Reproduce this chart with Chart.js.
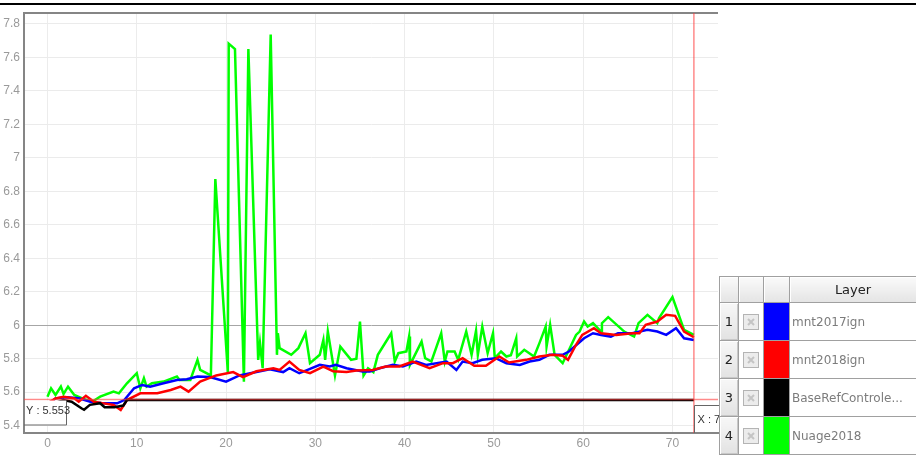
<!DOCTYPE html>
<html>
<head>
<meta charset="utf-8">
<script src="https://cdn.jsdelivr.net/npm/chart.js@4.4.1/dist/chart.umd.min.js"></script>
<style>
  html,body{margin:0;padding:0;background:#fff;width:916px;height:455px;overflow:hidden;position:relative;}
  #topbar{position:absolute;left:0;top:3px;width:916px;height:2px;background:#000;}
  #c{position:absolute;left:0;top:0;}
  #tbl{position:absolute;left:719px;top:276px;width:197px;height:179px;overflow:hidden;}
  #tbl table{border-collapse:collapse;table-layout:fixed;width:197px;font-family:"DejaVu Sans",sans-serif;}
  #tbl td{border:1px solid #a0a0a0;padding:0;overflow:hidden;white-space:nowrap;}
  #tbl tr.h td{height:25px;background:linear-gradient(#fafafa,#e4e4e4);box-shadow:inset 1px 1px 0 #fff;}
  #tbl tr.h td.lay{text-align:center;font-size:13px;color:#222;}
  #tbl tr.r td{height:37px;}
  #tbl td.num{background:linear-gradient(#f7f7f7,#e2e2e2);text-align:center;font-size:13px;color:#222;box-shadow:inset 1px 1px 0 #fff, inset -1px -1px 0 #c8c8c8;}
  #tbl td.chk{text-align:center;background:#fff;}
  #tbl td.nm{font-size:12px;color:#7c7c7c;padding-left:2px;background:#fff;}
</style>
</head>
<body>
<div id="topbar"></div>
<canvas id="c" width="916" height="455"></canvas>
<div id="tbl"></div>
<script>
// ---- data ----
const layerNames = ["mnt2017ign", "mnt2018ign", "BaseRefControle...", "Nuage2018"];
const layerColors = ["#0000ff", "#ff0000", "#000000", "#00ff00"];

const blueX = [0,0.9,2.2,3.5,4.8,6.3,7.8,8.6,9.7,10.6,11.5,13,14.5,15.6,16.8,18.2,20,21.5,23.4,24.9,26.4,27.1,28.2,29,30.5,31.6,32.3,33.5,35.3,36.1,37.2,38.7,39.8,41.3,42.4,44.7,45.8,46.5,47.6,48.7,50.2,51.4,52.9,54,55.1,56.2,57.7,58.4,60.1,61.1,62,63.1,63.9,65.5,67.2,68.3,69.3,70.4,71.3,72.4];
const blueY = [5.523,5.563,5.57,5.563,5.543,5.533,5.533,5.553,5.623,5.643,5.633,5.653,5.673,5.677,5.693,5.69,5.663,5.70,5.72,5.737,5.72,5.743,5.713,5.73,5.763,5.753,5.763,5.743,5.723,5.723,5.743,5.763,5.753,5.783,5.763,5.783,5.733,5.783,5.773,5.793,5.803,5.773,5.763,5.783,5.793,5.823,5.823,5.843,5.922,5.952,5.942,5.932,5.952,5.952,5.972,5.962,5.942,5.982,5.922,5.912];

const redX = [0,0.9,1.8,3,3.5,4.3,5.2,6.3,7.4,8.2,8.9,10.4,12.3,13.8,14.9,15.8,17.1,18.9,20.8,21.9,23.4,25.3,26,27.1,28.2,29.4,30.9,32,33.5,34.6,36.4,37.9,39.4,40.9,42.8,44.3,45.4,46.5,47.8,49.1,50.6,51.7,53.6,55.1,56.6,57.7,58.3,59.2,59.9,61.2,62,63.7,65.5,66.3,67,68.3,69.3,70.3,71.3,72.4];
const redY = [5.533,5.563,5.573,5.563,5.543,5.578,5.543,5.533,5.523,5.493,5.553,5.593,5.593,5.613,5.633,5.603,5.663,5.70,5.72,5.69,5.725,5.743,5.733,5.783,5.733,5.713,5.753,5.725,5.72,5.73,5.733,5.753,5.753,5.783,5.743,5.773,5.773,5.803,5.757,5.757,5.813,5.777,5.793,5.813,5.823,5.817,5.793,5.883,5.942,5.982,5.952,5.942,5.952,5.952,6.002,6.022,6.062,6.056,5.962,5.928];

const blackX = [0,0.8,1.8,2.7,3.8,4.1,4.75,5.9,6.4,7.5,8.5,8.9,72.4];
const blackY = [5.513,5.535,5.553,5.543,5.504,5.495,5.524,5.534,5.510,5.510,5.52,5.553,5.553];

const greenX = [0,0.4,0.9,1.5,1.8,2.3,3,3.9,5,5.9,7.4,8,8.9,10,10.4,10.8,11.1,11.7,13,14.5,14.8,16,16.8,17.1,18.3,18.8,20.2,20.3,21,22,22.5,23.6,23.8,24.1,25,25.7,25.8,26,27.3,28.1,28.9,29.4,30.5,30.9,31.1,31.4,32.2,32.8,34,34.6,35,35.4,35.9,36.5,37,38.5,38.9,39.3,40.2,40.5,40.6,41.9,42.3,43,44.1,44.5,44.8,45.6,46,46.9,47.5,48,48.2,48.7,49.3,49.9,50.1,50.8,51.4,51.9,52.5,52.6,53.4,54.5,55.1,55.8,55.9,56.3,56.8,57.7,59.2,59.6,60.1,60.5,61.1,62,62.1,62.8,64.6,65.7,66.2,67.2,68.3,68.5,70,71.3,72.4];
const greenY = [5.573,5.623,5.583,5.633,5.59,5.633,5.583,5.563,5.543,5.573,5.603,5.593,5.653,5.713,5.623,5.683,5.633,5.653,5.663,5.693,5.673,5.673,5.793,5.733,5.70,6.873,5.72,7.682,7.65,5.663,7.65,5.793,5.893,5.743,7.736,5.823,5.952,5.863,5.823,5.863,5.952,5.773,5.823,5.912,5.793,5.962,5.70,5.872,5.793,5.80,6.022,5.70,5.743,5.72,5.823,5.952,5.783,5.833,5.843,5.932,5.763,5.902,5.803,5.783,5.952,5.783,5.843,5.843,5.793,5.962,5.823,5.967,5.823,5.992,5.833,5.952,5.803,5.843,5.813,5.82,5.922,5.813,5.853,5.813,5.893,5.992,5.873,6.002,5.823,5.773,5.942,5.962,6.022,5.992,6.012,5.962,6.012,6.048,5.962,5.932,6.012,6.062,6.012,6.042,6.168,5.972,5.942];

const cursorX = 72.4;
const cursorY = 5.553;
const xRange = [-2.63, 75.1];
const yRange = [5.356, 7.865];

// ---- build ----
const zip = (xs, ys) => xs.map((x, i) => ({x: x, y: ys[i]}));
const seriesData = [zip(blueX, blueY), zip(redX, redY), zip(blackX, blackY), zip(greenX, greenY)];
const drawOrder = [2, 1, 0, 3];

const datasets = seriesData.map((d, i) => ({
  label: layerNames[i],
  data: d,
  borderColor: layerColors[i],
  backgroundColor: layerColors[i],
  borderWidth: 2.5,
  pointRadius: 0,
  tension: 0,
  fill: false,
  order: drawOrder[i]
}));

const tickFont = {family: "'Liberation Sans Narrow', 'Liberation Sans', sans-serif", size: 12};

const framePlugin = {
  id: 'frame',
  afterDatasetsDraw(chart) {
    const {ctx, chartArea: a, scales} = chart;
    ctx.save();
    // top frame line
    ctx.strokeStyle = '#858585';
    ctx.lineWidth = 2;
    ctx.beginPath(); ctx.moveTo(a.left - 1, a.top); ctx.lineTo(a.right, a.top); ctx.stroke();
    // crosshair
    const cx = scales.x.getPixelForValue(cursorX);
    const cy = Math.round(scales.y.getPixelForValue(cursorY)) - 0.5;
    ctx.strokeStyle = 'rgba(255,60,60,0.6)';
    ctx.lineWidth = 1.5;
    ctx.beginPath(); ctx.moveTo(a.left, cy); ctx.lineTo(a.right, cy); ctx.stroke();
    ctx.beginPath(); ctx.moveTo(cx, a.top); ctx.lineTo(cx, a.bottom); ctx.stroke();
    // Y box
    ctx.fillStyle = '#fff';
    ctx.strokeStyle = '#666';
    ctx.lineWidth = 1;
    ctx.fillRect(a.left + 1, cy + 1, 41, 25);
    ctx.beginPath(); ctx.moveTo(a.left + 42.5, cy + 1); ctx.lineTo(a.left + 42.5, cy + 25.5); ctx.lineTo(a.left, cy + 25.5); ctx.stroke();
    ctx.fillStyle = '#333';
    ctx.font = "11px 'Liberation Sans Narrow', 'Liberation Sans', sans-serif";
    ctx.textBaseline = 'middle';
    ctx.textAlign = 'left';
    ctx.fillText('Y : ' + cursorY.toFixed(3), a.left + 2, cy + 11);
    // X box
    const bx = Math.round(cx) + 0.5;
    ctx.fillStyle = '#fff';
    ctx.fillRect(bx, a.bottom - 27, 60, 26);
    ctx.strokeStyle = '#666';
    ctx.beginPath(); ctx.moveTo(bx, a.bottom); ctx.lineTo(bx, a.bottom - 27.5); ctx.lineTo(bx + 60, a.bottom - 27.5); ctx.stroke();
    ctx.fillStyle = '#333';
    ctx.fillText('X : ' + cursorX.toFixed(3), bx + 3, a.bottom - 13);
    ctx.restore();
  }
};

new Chart(document.getElementById('c'), {
  type: 'line',
  data: {datasets: datasets},
  options: {
    responsive: false,
    animation: false,
    devicePixelRatio: 1,
    layout: {padding: {top: 13, right: 198, left: 0, bottom: 0}},
    plugins: {legend: {display: false}, tooltip: {enabled: false}},
    scales: {
      x: {
        type: 'linear',
        min: xRange[0], max: xRange[1],
        afterFit(s) { s.height = 22; },
        ticks: {stepSize: 10, includeBounds: false, color: '#9a9a9a', font: tickFont, padding: 3, maxRotation: 0,
                callback: v => String(Math.round(v))},
        grid: {color: '#ececec', drawTicks: false},
        border: {display: true, color: '#858585', width: 2}
      },
      y: {
        type: 'linear',
        min: yRange[0], max: yRange[1],
        afterFit(s) { s.width = 24; },
        ticks: {stepSize: 0.2, includeBounds: false, color: '#9a9a9a', font: tickFont, padding: 4,
                callback: v => String(Number(v.toFixed(1)))},
        grid: {color: ctx => (ctx.tick && Math.abs(ctx.tick.value - 6) < 1e-6) ? '#a6a6a6' : '#ebebeb', drawTicks: false},
        border: {display: true, color: '#858585', width: 2}
      }
    }
  },
  plugins: [framePlugin]
});

// ---- legend table ----
const checkSvg = '<svg width="16" height="16" viewBox="0 0 16 16" style="display:block;margin:auto"><rect x="0.5" y="0.5" width="15" height="15" fill="#ececec" stroke="#b4b4b4"/><path d="M5 5 L11 11 M11 5 L5 11" stroke="#c4c4c4" stroke-width="2"/></svg>';
let html = '<table><colgroup><col style="width:19px"><col style="width:25px"><col style="width:26px"><col style="width:127px"></colgroup>';
html += '<tr class="h"><td></td><td></td><td></td><td class="lay">Layer</td></tr>';
layerNames.forEach((n, i) => {
  html += '<tr class="r"><td class="num">' + (i + 1) + '</td><td class="chk">' + checkSvg +
          '</td><td style="background:' + layerColors[i] + '"></td><td class="nm">' + n + '</td></tr>';
});
html += '</table>';
document.getElementById('tbl').innerHTML = html;
</script>
</body>
</html>
